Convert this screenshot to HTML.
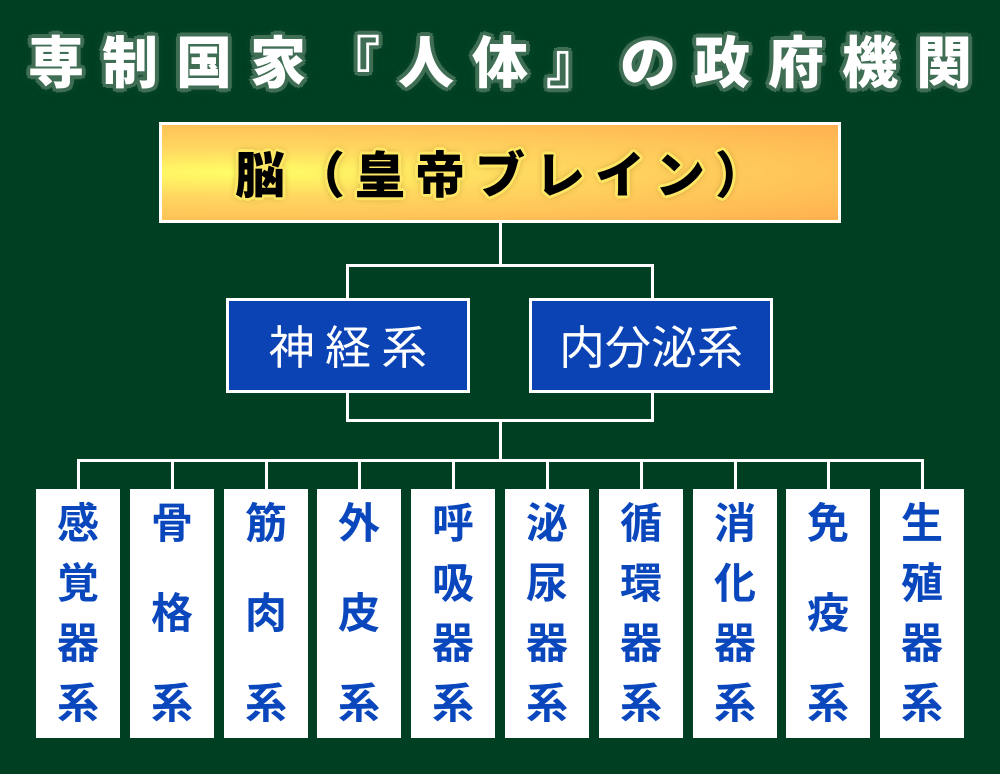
<!DOCTYPE html>
<html><head><meta charset="utf-8"><style>
body{margin:0;width:1000px;height:774px;background:#013f22;position:relative;overflow:hidden;font-family:"Liberation Sans","Noto Sans CJK JP",sans-serif}
.t{position:absolute;left:0;width:1000px;top:22px;text-align:center;font-family:"Noto Sans CJK JP",sans-serif;font-size:56px;font-weight:900;color:#fff;letter-spacing:18px;text-indent:18px;line-height:76px;
text-shadow:4px 0 #3f6e54,-4px 0 #3f6e54,0 4px #3f6e54,0 -4px #3f6e54,3px 3px #3f6e54,-3px -3px #3f6e54,3px -3px #3f6e54,-3px 3px #3f6e54,0 0 10px #2a5a40;}
.brain{position:absolute;left:159px;top:122px;width:676px;height:95px;border:3px solid #fff;background:radial-gradient(ellipse at 12% 50%,#ffff66 0%,#ffd860 35%,#ffb050 100%);text-align:center;line-height:95px;font-family:"Noto Sans CJK JP",sans-serif;font-size:50px;font-weight:900;color:#000;letter-spacing:10px;text-indent:10px;
text-shadow:3px 0 #ffe766,-3px 0 #ffe766,0 3px #ffe766,0 -3px #ffe766,2px 2px #ffe766,-2px -2px #ffe766,2px -2px #ffe766,-2px 2px #ffe766,0 0 8px #a08020}
.bl{position:absolute;top:298px;width:238px;height:89px;border:3px solid #fff;background:#0b43b5;color:#fff;text-align:center;line-height:89px;font-size:46px;font-family:"Noto Sans CJK JP",sans-serif}
.l{position:absolute;background:#fff}
.c{position:absolute;top:489px;width:84px;height:249px;background:#fff;color:#0a47bd;font-size:42px;font-weight:bold;text-align:center}
.c span{position:absolute;left:0;width:84px;line-height:50px}
</style></head><body>
<div class="t">専制国家『人体』の政府機関</div>
<div class="brain">脳（皇帝ブレイン）</div>
<div class="l" style="left:499px;top:223px;width:3px;height:43px"></div>
<div class="l" style="left:346px;top:264px;width:308px;height:3px"></div>
<div class="l" style="left:346px;top:264px;width:3px;height:35px"></div>
<div class="l" style="left:651px;top:264px;width:3px;height:35px"></div>
<div class="bl" style="left:226px">神 経 系</div>
<div class="bl" style="left:529px">内分泌系</div>
<div class="l" style="left:346px;top:392px;width:3px;height:30px"></div>
<div class="l" style="left:651px;top:392px;width:3px;height:30px"></div>
<div class="l" style="left:346px;top:419px;width:308px;height:3px"></div>
<div class="l" style="left:499px;top:419px;width:3px;height:42px"></div>
<div class="l" style="left:77px;top:459px;width:846px;height:3px"></div>
<div id="cols"></div>
<script>
var d=["感覚器系","骨格系","筋肉系","外皮系","呼吸器系","泌尿器系","循環器系","消化器系","免疫系","生殖器系"];
var h="";
for(var i=0;i<10;i++){var x=Math.round(36+i*93.8);
h+='<div class="l" style="left:'+(x+41)+'px;top:459px;width:3px;height:30px"></div><div class="c" style="left:'+x+'px">';
var s=d[i];var ys=s.length==4?[10,70,130,190]:[10,100,190];
for(var j=0;j<s.length;j++)h+='<span style="top:'+ys[j]+'px">'+s[j]+'</span>';
h+='</div>';}
document.getElementById("cols").innerHTML=h;
</script>
</body></html>
